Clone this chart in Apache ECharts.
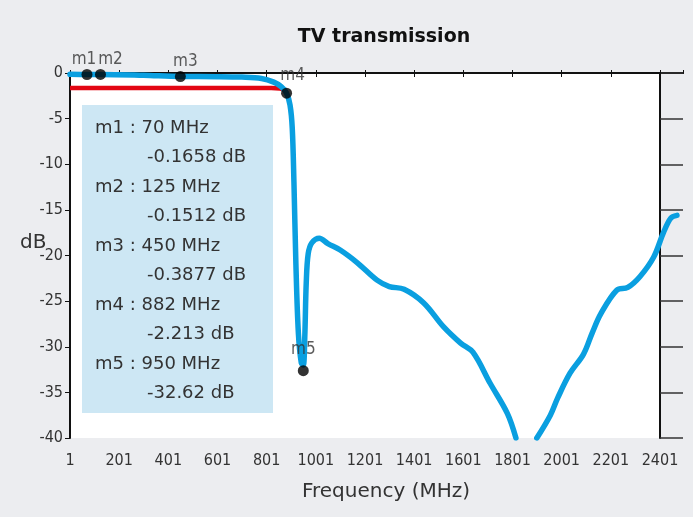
<!DOCTYPE html>
<html>
<head>
<meta charset="utf-8">
<script src="https://cdn.jsdelivr.net/npm/echarts@6/dist/echarts.min.js"></script>
<style>
  html, body { margin: 0; padding: 0; background: #ecedf0; }
  #chart { width: 693px; height: 517px; }
</style>
</head>
<body>
<div id="chart"></div>
<script>
// measured S21 curve (MHz, dB), '-' = off the bottom of the plot
var freqs = [1, 70, 125, 300, 450, 600, 700, 780, 830, 860, 882, 896, 905, 912, 920, 930, 942, 950,
  956, 962, 970, 985, 1015, 1050, 1100, 1170, 1250, 1300, 1360, 1440, 1520, 1590, 1640, 1710, 1780, 1815,
  1860, 1900, 1955, 1985, 2035, 2090, 2125, 2160, 2225, 2270, 2320, 2375, 2415, 2445, 2470];
var dbs = [-0.15, -0.1658, -0.1512, -0.25, -0.3877, -0.4, -0.45, -0.6, -1.0, -1.5, -2.213, -3.5, -6, -12, -21, -28.5, -31.8, -32.0,
  -29, -23, -19.8, -18.6, -18.1, -18.7, -19.4, -20.8, -22.7, -23.4, -23.7, -25.2, -27.8, -29.6, -30.6, -34, -37.3, -40,
  '-', -40, -37.5, -35.6, -32.9, -30.8, -28.5, -26.4, -23.8, -23.5, -22.3, -20.2, -17.5, -15.9, -15.6];

// red limit line
var limitFreqs = [1, 820, 855, 872, 882];
var limitDbs = [-1.65, -1.65, -1.7, -1.85, -2.213];

// markers
var markerNames = ['m1', 'm2', 'm3', 'm4', 'm5'];
var markerFreqs = [70, 125, 450, 882, 950];
var markerDbs = [-0.1658, -0.1512, -0.3877, -2.213, -32.62];
var markerDbText = ['-0.1658', '-0.1512', '-0.3877', '-2.213', '-32.62'];
var markerLabelOffsets = [[-3, 2], [10, 2], [5, 2], [6, -1], [0, -4]];

// bottom axis: ticks every 200 from 1, plot frame ends at 2401, curve runs on past it
var xTicks = { min: 1, frameMax: 2401, max: 2494.6, interval: 200 };
var yTicks = { min: -40, max: 0, interval: 5 };

var FONT = "'Liberation Sans Narrow', 'DejaVu Sans Condensed', 'Roboto', sans-serif";
var WIDE = "'DejaVu Sans', 'Roboto', sans-serif";

function zip(a, b) {
  return a.map(function (v, i) { return [v, b[i]]; });
}

function xLabel(v) {
  return v <= xTicks.frameMax ? String(v) : '';
}

var chart = echarts.init(document.getElementById('chart'));

var boxTexts = [];
markerNames.forEach(function (name, i) {
  boxTexts.push({
    type: 'text', left: 95, top: 119 + i * 59, z: 5,
    style: { text: name + ' : ' + markerFreqs[i] + ' MHz', font: '18px ' + WIDE, fill: '#333' }
  });
  boxTexts.push({
    type: 'text', left: 147, top: 148 + i * 59, z: 5,
    style: { text: markerDbText[i] + ' dB', font: '18px ' + WIDE, fill: '#333' }
  });
});

var axisLine = { show: true, lineStyle: { color: '#111', width: 2 } };

var option = {
  backgroundColor: '#ecedf0',
  animation: false,
  title: [{
    text: 'TV transmission',
    left: 379, top: 23, textAlign: 'center',
    textStyle: { fontFamily: WIDE, fontWeight: 'bold', fontSize: 19, color: '#111' }
  }, {
    text: 'Frequency (MHz)',
    left: 381, top: 477, textAlign: 'center',
    textStyle: { fontFamily: WIDE, fontWeight: 'normal', fontSize: 20, color: '#333' }
  }, {
    text: 'dB',
    left: 15, top: 228,
    textStyle: { fontFamily: WIDE, fontWeight: 'normal', fontSize: 20, color: '#333' }
  }],
  grid: { left: 70, right: 10, top: 73, bottom: 79, show: false },
  xAxis: [{
    type: 'value', position: 'bottom',
    min: xTicks.min, max: xTicks.max, interval: xTicks.interval,
    axisLine: axisLine,
    axisTick: { show: true, inside: false, length: 4, lineStyle: { color: '#111' } },
    axisLabel: { color: '#333', fontFamily: FONT, fontSize: 16, margin: 15, formatter: xLabel, showMaxLabel: false },
    splitLine: { show: false }
  }, {
    type: 'value', position: 'top',
    min: xTicks.min, max: xTicks.max, interval: xTicks.interval,
    axisLine: axisLine,
    axisTick: { show: true, inside: false, length: 3, lineStyle: { color: '#111' } },
    axisLabel: { show: false },
    splitLine: { show: false }
  }],
  yAxis: [{
    type: 'value', position: 'left',
    min: yTicks.min, max: yTicks.max, interval: yTicks.interval,
    axisLine: axisLine,
    axisTick: { show: true, inside: false, length: 5, lineStyle: { color: '#111' } },
    axisLabel: { color: '#333', fontFamily: FONT, fontSize: 16, margin: 7 },
    splitLine: { show: false }
  }, {
    type: 'value', position: 'right', offset: -23,
    min: yTicks.min, max: yTicks.max, interval: yTicks.interval,
    axisLine: axisLine,
    axisTick: { show: true, inside: false, length: 23, lineStyle: { color: '#333', width: 1.5 } },
    axisLabel: { show: false },
    splitLine: { show: false }
  }],
  graphic: [{
    // white plot frame
    type: 'rect', left: 70, top: 73, z: -10, silent: true,
    shape: { width: 590, height: 365 },
    style: { fill: '#fff' }
  }, {
    // marker readout box
    type: 'rect', left: 82, top: 105, z: 4,
    shape: { width: 191, height: 308 },
    style: { fill: '#cde7f4' }
  }].concat(boxTexts),
  series: [{
    name: 'limit', type: 'line',
    data: zip(limitFreqs, limitDbs),
    smooth: 0.4, showSymbol: false, z: 3,
    lineStyle: { color: '#e30613', width: 4.5 }
  }, {
    name: 'S21', type: 'line',
    data: zip(freqs, dbs),
    smooth: 0.35, showSymbol: false, z: 4,
    connectNulls: false,
    lineStyle: { color: '#0a9fe0', width: 5.5, cap: 'round', join: 'round' }
  }, {
    name: 'markers', type: 'scatter', z: 6,
    symbol: 'circle', symbolSize: 11,
    itemStyle: { color: '#000' },
    data: markerNames.map(function (n, i) {
      return {
        value: [markerFreqs[i], markerDbs[i]],
        label: { offset: markerLabelOffsets[i] }
      };
    }),
    label: {
      show: true, position: 'top', distance: 3,
      formatter: function (p) { return markerNames[p.dataIndex]; },
      fontFamily: FONT, fontSize: 17, color: '#333'
    }
  }]
};

chart.setOption(option);
</script>
</body>
</html>
